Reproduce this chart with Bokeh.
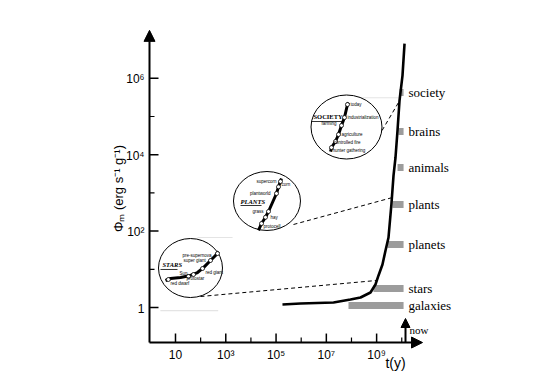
import numpy as np
from bokeh.plotting import figure
from bokeh.models import Arrow, NormalHead, ColumnDataSource, Range1d
from bokeh.core.properties import value
from bokeh.embed import file_html
from bokeh.resources import INLINE

# ---------------- data ----------------
# main curve: time t (yr) vs energy rate density Phi_m (erg s^-1 g^-1)
curve_t = [1.8e5, 9.4e5, 1.93e7, 9.1e7, 2.29e8, 5.7e8, 9.0e8, 1.19e9, 1.71e9,
           2.26e9, 2.97e9, 3.9e9, 4.7e9, 5.64e9, 6.78e9, 8.15e9, 1.07e10, 1.29e10]
curve_phi = [1.2, 1.27, 1.35, 1.62, 1.83, 2.47, 4.0, 6.9, 13.4,
             31, 68, 528, 2850, 8450, 4.3e4, 2.62e5, 1.18e6, 8.1e6]

# grey bars (epochs) on the right
bar_names = ["society", "brains", "animals", "plants", "planets", "stars", "galaxies"]
bar_start = [8.15e9, 7.4e9, 6.8e9, 4.3e9, 2.71e9, 7.5e8, 7.6e7]
bar_end = [1.18e10, 1.18e10, 1.18e10, 1.18e10, 1.18e10, 1.18e10, 1.18e10]
bar_phi = [4.25e5, 4.05e4, 4620, 497, 44.6, 3.14, 1.13]
bar_label_t = 1.85e10

now_t = 1.41e10
now_tip_phi = 0.515
now_label_t, now_label_phi = 2.03e10, 0.25

# axes (log-log), arrow tips
axis_x, axis_y = 0.925, 0.121
x_tip, y_tip = 6.7e10, 1.8e7

# ticks
x_major = [10, 1e3, 1e5, 1e7, 1e9]
x_minor = [1e2, 1e4, 1e6, 1e8, 1e10]
x_labels = ["10", "10³", "10⁵", "10⁷", "10⁹"]
y_major = [1, 1e2, 1e4, 1e6]
y_minor = [10, 1e3, 1e5]
y_labels = ["1", "10²", "10⁴", "10⁶"]

# axis titles
xtitle_t, xtitle_phi = 5.64e9, 0.0363
ytitle_t, ytitle_phi = 0.054, 1300

# inset circles (centre in chart coordinates)
circ_t = [39.5, 4.36e4, 6.34e7]
circ_phi = [10.8, 614, 5.31e4]
circ_w = [64, 67, 71]
circ_h = [59, 59, 64]

# dashed connectors: circle -> curve
dash_t0 = [98.6, 4.94e5, 1.19e9]
dash_phi0 = [1.94, 149, 2.99e4]
dash_t1 = [1.0e9, 4.29e9, 7.4e9]
dash_phi1 = [5.1, 758, 2.32e5]

# faint guide lines (scan remnants)
faint_t0 = [2.5, 75, 9.1e7]
faint_t1 = [500, 1860, 7.4e9]
faint_phi = [0.83, 68, 3.1e5]

# STARS inset
stars_t = [4.0, 6.32, 15.8, 39.5, 75, 130, 247, 390, 513]
stars_phi = [5.09, 5.74, 6.10, 6.89, 8.24, 11.1, 17.0, 23.0, 29.2]
stars_mt = [5.2, 32.9, 52, 119, 247, 469]
stars_mphi = [5.4, 6.5, 7.3, 10.5, 17, 25.9]
stars_lab = ["pre-supernova", "super giant", "red giant", "Sun", "protostar", "red dwarf"]
stars_lt = [19, 20.8, 156, 14.4, 27.4, 6.3]
stars_lphi = [23, 17, 8.2, 7.8, 5.7, 4.25]

# PLANTS inset
plants_t = [2.0e4, 2.64e4, 3.8e4, 5.0e4, 1.04e5, 1.25e5, 1.64e5]
plants_phi = [104, 158, 230, 326, 964, 1440, 2380]
plants_mt = [2.64e4, 3.8e4, 5.0e4, 1.04e5, 1.25e5, 1.5e5]
plants_mphi = [158, 230, 326, 964, 1440, 1990]
plants_lab_r = ["supercorn", "plantworld", "grass"]
plants_lt_r = [1.04e5, 6.0e4, 3.16e4]
plants_lphi_r = [1990, 964, 326]
plants_lab_l = ["corn", "hay", "protocell"]
plants_lt_l = [1.64e5, 6.0e4, 3.16e4]
plants_lphi_l = [1660, 227, 132]

# SOCIETY inset
soc_t = [1.47e7, 1.6e7, 2.31e7, 3.05e7, 4.01e7, 5.27e7, 6.93e7, 7.6e7]
soc_phi = [1.21e4, 1.54e4, 2.22e4, 3.38e4, 5.81e4, 9.4e4, 2.06e5, 2.32e5]
soc_mt = [1.6e7, 2.31e7, 3.05e7, 4.01e7, 5.27e7, 6.93e7]
soc_mphi = [1.54e4, 2.22e4, 3.38e4, 5.81e4, 9.4e4, 2.06e5]
soc_lab = ["today", "industrialization", "farming", "agriculture", "controlled fire", "hunter gathering"]
soc_lt = [9.14e7, 6.93e7, 6.43e6, 4.01e7, 1.93e7, 1.76e7]
soc_lphi = [2.06e5, 9.4e4, 6.56e4, 3.38e4, 2.09e4, 1.29e4]

# inset titles + underlines
title_txt = ["STARS", "PLANTS", "SOCIETY"]
title_style = ["bold italic", "bold italic", "bold"]
title_t = [3.04, 3860, 3.08e6]
title_phi = [13.0, 600, 1.0e5]
ul_t0 = [2.53, 3860, 2.57e6]
ul_t1 = [12.0, 2.64e4, 4.8e7]
ul_phi = [9.9, 468, 7.4e4]

# ---------------- figure ----------------
# the frame covers the whole canvas; axes are drawn by hand on log scales
p = figure(width=557, height=372, x_axis_type="log", y_axis_type="log",
           x_range=Range1d(1.094e-6, 1.567e16), y_range=Range1d(0.01988, 1.089e8),
           x_axis_location=None, y_axis_location=None,
           output_backend="svg", toolbar_location=None, min_border=0)
p.outline_line_color = None
p.grid.visible = False
p.background_fill_color = "white"

# faint lines
p.segment(faint_t0, faint_phi, faint_t1, faint_phi, line_color="#e4e4e4", line_width=1.2)

# grey bars
p.segment(bar_start, bar_phi, bar_end, bar_phi, line_color="#9c9c9c", line_width=7)

# dashed connectors
p.segment(dash_t0, dash_phi0, dash_t1, dash_phi1, line_color="black",
          line_width=1, line_dash="4 3")

# main curve
p.line(curve_t, curve_phi, line_color="black", line_width=2.6)

# inset circles
p.ellipse(circ_t, circ_phi, width=circ_w, height=circ_h,
          width_units="screen", height_units="screen",
          fill_color="white", line_color="black", line_width=1)

# inset curves
for tt, pp in ((stars_t, stars_phi), (plants_t, plants_phi), (soc_t, soc_phi)):
    p.line(tt, pp, line_color="black", line_width=3)
for tt, pp in ((stars_mt, stars_mphi), (plants_mt, plants_mphi), (soc_mt, soc_mphi)):
    p.scatter(tt, pp, size=4, fill_color="white", line_color="black", line_width=0.8)

small = dict(text_font=value("Liberation Sans"), text_font_size="4.5px",
             text_baseline="middle", text_color="black")
p.text(stars_lt, stars_lphi, text=stars_lab, text_align="left", **small)
p.text(plants_lt_r, plants_lphi_r, text=plants_lab_r, text_align="right", **small)
p.text(plants_lt_l, plants_lphi_l, text=plants_lab_l, text_align="left", **small)
p.text(soc_lt, soc_lphi, text=soc_lab, text_align="left", **small)

src_title = ColumnDataSource(dict(t=title_t, phi=title_phi, txt=title_txt, st=title_style))
p.text("t", "phi", text="txt", source=src_title, text_font=value("Liberation Serif"),
       text_font_size="6.5px", text_font_style="st", text_align="left",
       text_baseline="middle", text_color="black")
p.segment(ul_t0, ul_phi, ul_t1, ul_phi, line_color="black", line_width=0.8)

# bar labels
p.text([bar_label_t] * len(bar_names), bar_phi, text=bar_names,
       text_font=value("Liberation Serif"), text_font_size="13px",
       text_baseline="middle", text_align="left", text_color="black")

# ---- axes drawn by hand ----
p.add_layout(Arrow(end=NormalHead(size=11, fill_color="black", line_color="black"),
                   x_start=axis_x, y_start=axis_y, x_end=x_tip, y_end=axis_y,
                   line_width=2, line_color="black"))
p.add_layout(Arrow(end=NormalHead(size=11, fill_color="black", line_color="black"),
                   x_start=axis_x, y_start=axis_y, x_end=axis_x, y_end=y_tip,
                   line_width=2, line_color="black"))
# ticks (inward)
p.ray(x_major, [axis_y] * len(x_major), length=9, angle=np.pi / 2,
      length_units="screen", line_color="black", line_width=1.5)
p.ray(x_minor, [axis_y] * len(x_minor), length=5, angle=np.pi / 2,
      length_units="screen", line_color="black", line_width=1.2)
p.ray([axis_x] * len(y_major), y_major, length=9, angle=0,
      length_units="screen", line_color="black", line_width=1.5)
p.ray([axis_x] * len(y_minor), y_minor, length=5, angle=0,
      length_units="screen", line_color="black", line_width=1.2)
# tick labels
p.text(x_major, [axis_y] * len(x_major), text=x_labels, y_offset=12,
       text_font=value("Liberation Sans"), text_font_size="12px",
       text_align="center", text_baseline="middle", text_color="black")
p.text([axis_x] * len(y_major), y_major, text=y_labels, x_offset=-5, y_offset=1,
       text_font=value("Liberation Sans"), text_font_size="12px",
       text_align="right", text_baseline="middle", text_color="black")

# "now" arrow
p.add_layout(Arrow(end=NormalHead(size=9, fill_color="black", line_color="black"),
                   x_start=now_t, y_start=axis_y, x_end=now_t, y_end=now_tip_phi,
                   line_width=2, line_color="black"))
p.text([now_label_t], [now_label_phi], text=["now"], text_font=value("Liberation Serif"),
       text_font_size="11px", text_baseline="middle", text_align="left", text_color="black")

# axis titles
p.text([xtitle_t], [xtitle_phi], text=["t(y)"], text_font=value("Liberation Sans"),
       text_font_size="14px", text_align="center", text_baseline="middle", text_color="black")
p.text([ytitle_t], [ytitle_phi], text=["Φₘ (erg s⁻¹ g⁻¹)"], angle=np.pi / 2,
       text_font=value("Liberation Sans"), text_font_size="13px",
       text_align="center", text_baseline="middle", text_color="black")

open("out.html", "w").write(file_html(p, INLINE))
